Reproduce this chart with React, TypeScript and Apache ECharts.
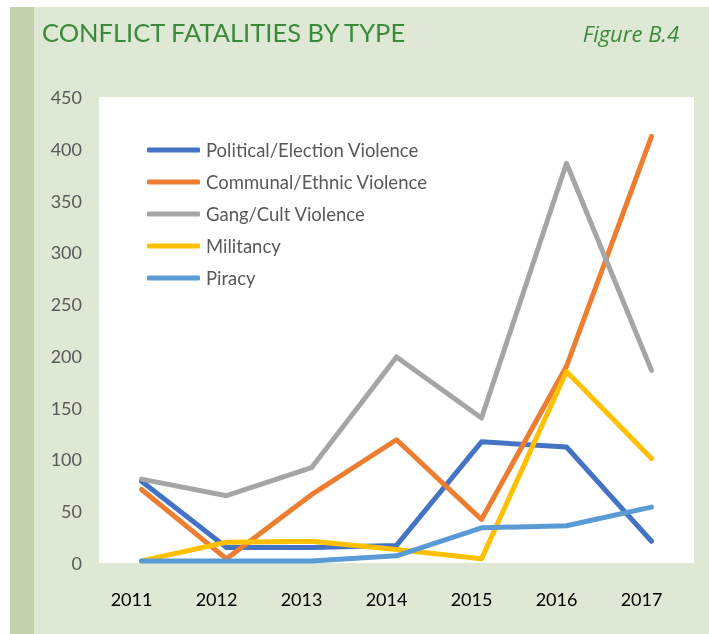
import React, { useEffect, useRef } from "react";
import * as echarts from "echarts";

const years = ["2011", "2012", "2013", "2014", "2015", "2016", "2017"];
const seriesNames = [
  "Political/Election Violence",
  "Communal/Ethnic Violence",
  "Gang/Cult Violence",
  "Militancy",
  "Piracy",
];
const political = [79, 15, 15, 17, 117, 112, 21];
const communal = [71, 4, 66, 119, 42, 190, 412];
const gang = [81, 65, 92, 199, 140, 386, 186];
const militancy = [2, 20, 21, 13, 4, 185, 101];
const piracy = [2, 2, 2, 7, 34, 36, 54];
const yTicks = [0, 50, 100, 150, 200, 250, 300, 350, 400, 450];
const colors = ["#4472c4", "#ed7d31", "#a5a5a5", "#ffc000", "#5b9bd5"];

const FONT = "Lato, 'Open Sans', sans-serif";

export default function App() {
  const ref = useRef<HTMLDivElement>(null);
  useEffect(() => {
    if (!ref.current) return;
    const chart = echarts.init(ref.current, undefined, { renderer: "svg" });
    const data = [political, communal, gang, militancy, piracy];
    chart.setOption({
      animation: false,
      textStyle: { fontFamily: FONT },
      graphic: [
        { type: "rect", z: -10, shape: { x: 10, y: 7, width: 699, height: 627 }, style: { fill: "#dfe7d5" }, silent: true },
        { type: "rect", z: -9, shape: { x: 10, y: 7, width: 24, height: 627 }, style: { fill: "#c3d3b0" }, silent: true },
        {
          type: "text",
          x: 42,
          y: 32,
          style: {
            text: "CONFLICT FATALITIES BY TYPE",
            fontFamily: FONT,
            fontSize: 25.5,
            fill: "#3a8a3c",
            align: "left",
            verticalAlign: "middle",
          },
        },
        {
          type: "text",
          x: 679,
          y: 33,
          style: {
            text: "Figure B.4",
            fontFamily: "'Open Sans', Lato, sans-serif",
            fontSize: 22,
            fontStyle: "italic",
            fill: "#3a8a3c",
            align: "right",
            verticalAlign: "middle",
          },
        },
      ],
      legend: {
        orient: "vertical",
        left: 147,
        top: 140,
        padding: 0,
        itemGap: 12,
        itemWidth: 53,
        itemHeight: 5,
        icon: "roundRect",
        data: seriesNames,
        textStyle: { fontFamily: FONT, fontSize: 18.5, color: "#595959", lineHeight: 20, padding: [0, 0, 0, 1] },
      },
      grid: {
        left: 99,
        right: 15,
        top: 97,
        bottom: 71,
        show: true,
        backgroundColor: "#ffffff",
        borderWidth: 0,
      },
      xAxis: {
        type: "category",
        data: years,
        boundaryGap: true,
        axisLine: { show: false },
        axisTick: { show: false },
        splitLine: { show: false },
        axisLabel: {
          fontFamily: FONT,
          fontSize: 18,
          color: "#000000",
          margin: 27,
          padding: [0, 20, 0, 0],
        },
      },
      yAxis: {
        type: "value",
        min: yTicks[0],
        max: yTicks[yTicks.length - 1],
        interval: 50,
        axisLine: { show: false },
        axisTick: { show: false },
        splitLine: { show: false },
        axisLabel: { fontFamily: FONT, fontSize: 18, color: "#595959", margin: 17 },
      },
      series: seriesNames.map((name, i) => ({
        name,
        type: "line",
        data: data[i],
        symbol: "none",
        color: colors[i],
        lineStyle: { width: 5, color: colors[i], cap: "round", join: "round" },
        itemStyle: { color: colors[i] },
      })),
    });
    return () => chart.dispose();
  }, []);
  return (
    <div
      ref={ref}
      style={{ position: "fixed", left: 0, top: 0, width: 709, height: 634 }}
    />
  );
}
